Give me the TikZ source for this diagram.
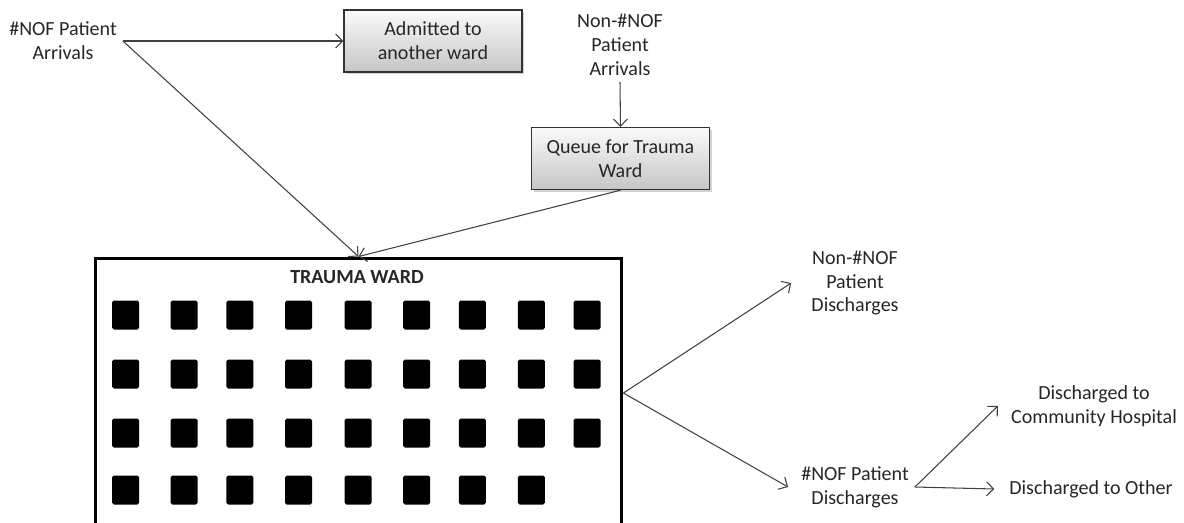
\documentclass[tikz,border=0pt]{standalone}
\usepackage{fontspec}
\setmainfont{Carlito}
\usetikzlibrary{arrows.meta,shadows}
\begin{document}
\begin{tikzpicture}[x=0.02cm,y=-0.02cm,
  every node/.style={font=\fontsize{11.4}{13.6}\selectfont,text=black!85,align=center},
  flow/.style={draw=black!75,line width=0.6pt,-{Straight Barb[length=4pt,width=8pt]}},
  stagebox/.style={draw=black!80,line width=0.8pt,top color=gray!4,bottom color=gray!45,minimum width=3.56cm,minimum height=1.24cm,drop shadow={shadow xshift=1.2pt,shadow yshift=-1.2pt,opacity=0.35}}]
\useasboundingbox (0,0) rectangle (1184,522);
% arrivals
\node (nofarr) at (63,41) {\#NOF Patient\\Arrivals};
\node[stagebox] (admit) at (433,41) {Admitted to\\another ward};
\node (nonarr) at (620,45) {Non-\#NOF\\Patient\\Arrivals};
\node[stagebox] (queue) at (620.5,158.5) {Queue for Trauma\\Ward};
% the ward and its beds
\node[draw,line width=1.7pt,minimum width=10.54cm,minimum height=5.4cm] (ward) at (358.5,393) {};
\node[font=\fontsize{11.4}{13.6}\selectfont\bfseries] (wardname) at (357,277) {TRAUMA WARD};
\foreach \x in {125.6,184.2,239.9,298.5,358.1,416.7,472.4,531.4,587.1}
  \foreach \y in {315,374,433}
    \fill[rounded corners=1pt] (\x-13.5,\y-14.5) rectangle ++(27,29);
\foreach \x in {125.6,184.2,239.9,298.5,358.1,416.7,472.4,531.4}
  \fill[rounded corners=1pt] (\x-13.5,490-14.5) rectangle ++(27,29);
% discharges
\node (nondis) at (855,283) {Non-\#NOF\\Patient\\Discharges};
\node (nofdis) at (855,487) {\#NOF Patient\\Discharges};
\node (community) at (1094,406) {Discharged to\\Community Hospital};
\node (other) at (1091,489) {Discharged to Other};
% flows
\draw[flow] (nofarr.east) -- (admit.west);
\draw[flow] (nofarr.east) -- (ward.north);
\draw[flow] (nonarr.south) -- (queue.north);
\draw[flow] (queue.south) -- (ward.north);
\draw[flow] (ward.east) -- ([xshift=-8pt]nondis.west);
\draw[flow] (ward.east) -- ([xshift=-4pt]nofdis.west);
\draw[flow] (nofdis.east) -- ([xshift=-4pt]community.west);
\draw[flow] (nofdis.east) -- ([xshift=-5pt]other.west);
\end{tikzpicture}
\end{document}
